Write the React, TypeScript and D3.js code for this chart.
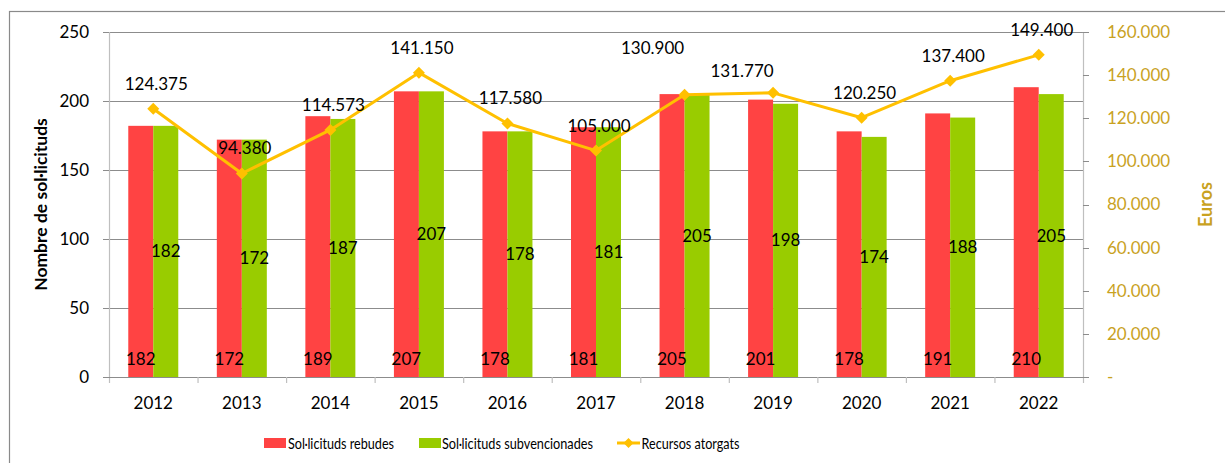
import React from "react";
import * as d3 from "d3";

const years = ["2012", "2013", "2014", "2015", "2016", "2017", "2018", "2019", "2020", "2021", "2022"];
const rebudes = [182, 172, 189, 207, 178, 181, 205, 201, 178, 191, 210];
const subvencionades = [182, 172, 187, 207, 178, 181, 205, 198, 174, 188, 205];
const recursos = [124375, 94380, 114573, 141150, 117580, 105000, 130900, 131770, 120250, 137400, 149400];
const leftTicks = [0, 50, 100, 150, 200, 250];
const rightTicks = [0, 20000, 40000, 60000, 80000, 100000, 120000, 140000, 160000];
const seriesNames = ["Sol·licituds rebudes", "Sol·licituds subvencionades", "Recursos atorgats"];

// layout: label nudges for the line labels (dx, dy from the point)
const lineLabelNudge: [number, number][] = [
  [3, -25], [3, -25], [3, -25], [3, -25], [3, -25], [3, -25],
  [-32, -47], [-31, -22], [3, -25], [3, -25], [3, -25],
];
// layout: legend text widths
const legendWidths = [106, 151, 98];

const W = 1225;
const H = 463;
const RED = "#FF4343";
const GREEN = "#99CC00";
const GOLD = "#FFC000";
const GOLD_TEXT = "#C9A21F";
const FONT = "Lato, 'Open Sans', sans-serif";

const locale = d3.formatLocale({ decimal: ",", thousands: ".", grouping: [3], currency: ["", "€"] });
const fmt = locale.format(",");

export default function App() {
  const left = 109, right = 1083, top = 32, bottom = 377;
  const x = d3.scaleBand<string>().domain(years).range([left, right]).paddingInner(0).paddingOuter(0);
  const yL = d3.scaleLinear().domain([0, 250]).range([bottom, top]);
  const yR = d3.scaleLinear().domain([0, 160000]).range([bottom, top]);
  const step = x.step();
  const bw = step * 0.2823;
  const cx = (y: string) => (x(y) as number) + step / 2;

  const linePath = d3.line<number>().x((_, i) => cx(years[i])).y((d) => yR(d))(recursos) || "";
  const diamond = (px: number, py: number, r: number) =>
    `M${px},${py - r}L${px + r},${py}L${px},${py + r}L${px - r},${py}Z`;

  return (
    <div style={{ position: "absolute", left: 0, top: 0 }}>
      <svg width={W} height={H} style={{ display: "block", fontFamily: FONT }}>
        <rect x={0} y={0} width={W} height={H} fill="#fff" />
        <rect x={9.5} y={11.5} width={1400} height={700} fill="none" stroke="#8a8a8a" strokeWidth={1.2} />

        {/* gridlines */}
        {leftTicks.filter((t) => t > 0).map((t) => (
          <line key={t} x1={left} x2={right} y1={Math.round(yL(t)) + 0.5} y2={Math.round(yL(t)) + 0.5} stroke="#8C8C8C" strokeWidth={1} />
        ))}

        {/* bars */}
        {years.map((yr, i) => (
          <g key={yr}>
            <rect x={cx(yr) - bw} y={yL(rebudes[i])} width={bw} height={bottom - yL(rebudes[i])} fill={RED} />
            <rect x={cx(yr)} y={yL(subvencionades[i])} width={bw} height={bottom - yL(subvencionades[i])} fill={GREEN} />
          </g>
        ))}

        {/* axes */}
        <line x1={left + 0.5} x2={left + 0.5} y1={top} y2={bottom + 6} stroke="#BFBFBF" strokeWidth={1.2} />
        <line x1={right + 0.5} x2={right + 0.5} y1={top} y2={bottom + 6} stroke="#BFBFBF" strokeWidth={1.2} />
        <line x1={left - 6} x2={right + 6} y1={bottom + 0.5} y2={bottom + 0.5} stroke="#8C8C8C" strokeWidth={1} />
        {leftTicks.map((t) => (
          <g key={t}>
            <line x1={left - 6} x2={left} y1={Math.round(yL(t)) + 0.5} y2={Math.round(yL(t)) + 0.5} stroke="#8C8C8C" />
            <text x={89} y={yL(t)} dy="0.35em" textAnchor="end" fontSize={17} fill="#000">{t}</text>
          </g>
        ))}
        {rightTicks.map((t) => (
          <g key={t}>
            <line x1={right} x2={right + 6} y1={Math.round(yR(t)) + 0.5} y2={Math.round(yR(t)) + 0.5} stroke="#8C8C8C" />
            <text x={1107} y={yR(t)} dy="0.35em" textAnchor="start" fontSize={17} fill={GOLD_TEXT}>{t === 0 ? "-" : fmt(t)}</text>
          </g>
        ))}
        {years.map((yr, i) => (
          <g key={yr}>
            {i > 0 && <line x1={(x(yr) as number) + 0.5} x2={(x(yr) as number) + 0.5} y1={bottom} y2={bottom + 6} stroke="#BFBFBF" strokeWidth={1.2} />}
            <text x={cx(yr)} y={409} textAnchor="middle" fontSize={17} fill="#000">{yr}</text>
          </g>
        ))}

        {/* axis titles */}
        <text transform={`translate(47,${(top + bottom) / 2}) rotate(-90)`} textAnchor="middle" fontSize={17.5} fontWeight="bold" fill="#000">Nombre de sol·licituds</text>
        <text transform={`translate(1212,${(top + bottom) / 2}) rotate(-90)`} textAnchor="middle" fontSize={18} fontWeight="bold" fill={GOLD_TEXT}>Euros</text>

        {/* bar labels */}
        {years.map((yr, i) => (
          <g key={yr} fontSize={17} fill="#000">
            <text x={cx(yr) - bw / 2} y={bottom - 18} dy="0.35em" textAnchor="middle">{rebudes[i]}</text>
            <text x={cx(yr) + bw / 2} y={(yL(subvencionades[i]) + bottom) / 2} dy="0.35em" textAnchor="middle">{subvencionades[i]}</text>
          </g>
        ))}

        {/* line */}
        <path d={linePath} fill="none" stroke={GOLD} strokeWidth={3} strokeLinejoin="round" />
        {recursos.map((v, i) => (
          <path key={i} d={diamond(cx(years[i]), yR(v), 6)} fill={GOLD} />
        ))}
        {recursos.map((v, i) => (
          <text key={i} x={cx(years[i]) + lineLabelNudge[i][0]} y={yR(v) + lineLabelNudge[i][1]} dy="0.35em" textAnchor="middle" fontSize={17} fill="#000">{fmt(v)}</text>
        ))}

        {/* legend */}
        <g fontSize={15} fill="#000">
          <rect x={264} y={438} width={22} height={10} fill={RED} />
          <text x={288} y={448.5} textLength={legendWidths[0]} lengthAdjust="spacingAndGlyphs">{seriesNames[0]}</text>
          <rect x={419} y={438} width={22} height={10} fill={GREEN} />
          <text x={442} y={448.5} textLength={legendWidths[1]} lengthAdjust="spacingAndGlyphs">{seriesNames[1]}</text>
          <line x1={617} x2={640} y1={443} y2={443} stroke={GOLD} strokeWidth={3} />
          <path d={diamond(628.5, 443, 5)} fill={GOLD} />
          <text x={641.5} y={448.5} textLength={legendWidths[2]} lengthAdjust="spacingAndGlyphs">{seriesNames[2]}</text>
        </g>
      </svg>
    </div>
  );
}
